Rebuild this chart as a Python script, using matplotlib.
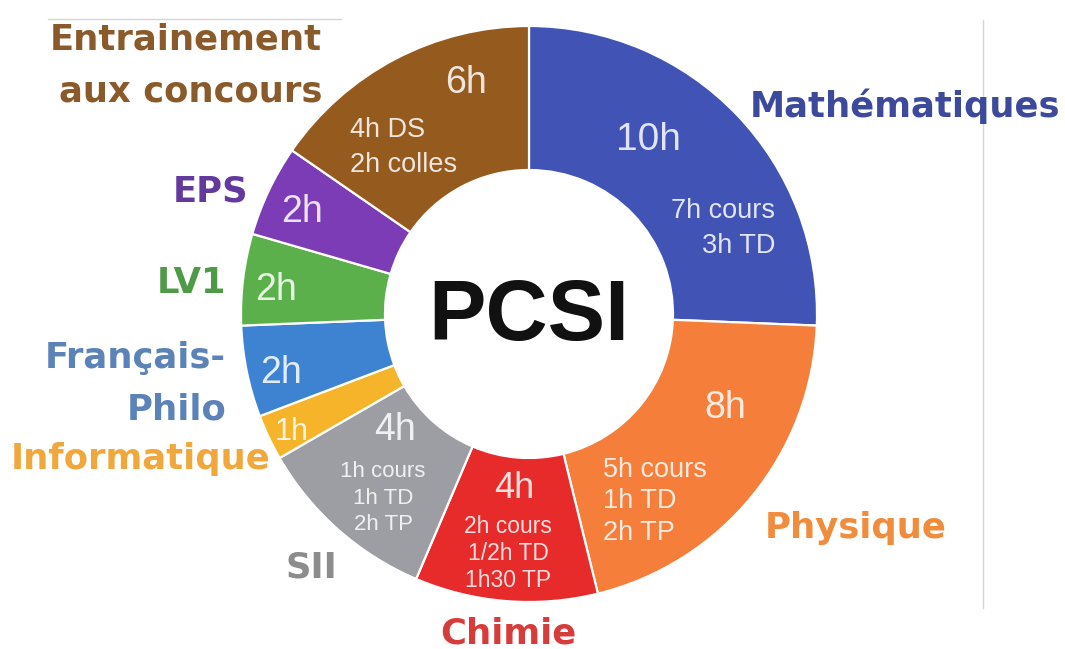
import matplotlib.pyplot as plt

W, H = 1065, 649

matieres = ["Mathématiques", "Physique", "Chimie", "SII", "Informatique",
            "Français-\nPhilo", "LV1", "EPS", "Entrainement\naux concours"]
heures = [10, 8, 4, 4, 1, 2, 2, 2, 6]
details = ["7h cours\n3h TD", "5h cours\n1h TD\n2h TP", "2h cours\n1/2h TD\n1h30 TP",
           "1h cours\n1h TD\n2h TP", "", "", "", "", "4h DS\n2h colles"]

couleurs = ["#4153B4", "#F47E3A", "#E72A2A", "#9D9EA4", "#F6B42B",
            "#3E82D2", "#5BB04C", "#7B3CB5", "#955A1E"]
couleurs_label = ["#3D4A9C", "#F08C3C", "#D63C3A", "#8C8C8C", "#F0A83C",
                  "#5B83B8", "#4E9A47", "#64399E", "#8A5A2A"]

# positions en pixels (origine en haut a gauche)
pos_label = [(905, 117, "center"), (856, 538, "center"), (508, 643, "center"),
             (311, 578, "center"), (141, 469, "center"), (226, 368, "right"),
             (192, 293, "center"), (211, 202, "center"), (322, 50, "right")]
pos_heures = [(648, 150, 28), (725, 418, 27), (514, 498, 26), (395, 440, 27),
              (292, 440, 22), (281, 383, 27), (276, 300, 27), (302, 222, 27),
              (466, 93, 27)]
pos_details = [(775, 218, "right", 35, 19.5), (603, 477, "left", 31.5, 19.5),
               (508, 533, "center", 27, 16.5), (383, 477, "center", 26.5, 16),
               None, None, None, None, (350, 137, "left", 35, 19.5)]


def Y(y):
    return H - y


fig = plt.figure(figsize=(W / 100, H / 100), dpi=100)
ax = fig.add_axes([0, 0, 1, 1])

ax.pie(heures, colors=couleurs, startangle=90, counterclock=False,
       center=(529, Y(314)), radius=288,
       wedgeprops=dict(width=144, edgecolor="white", linewidth=1.6))

ax.set_xlim(0, W)
ax.set_ylim(0, H)
ax.set_aspect("auto")
ax.axis("off")

# traits parasites de la capture
ax.plot([983, 983], [Y(20), Y(608)], color="#d6d6d6", lw=1)
ax.plot([48, 341], [Y(19), Y(19)], color="#d6d6d6", lw=1)

ax.text(529, Y(318), "PCSI", ha="center", va="center", fontsize=62,
        fontweight="bold", family="Liberation Sans", color="#111111")

for i, nom in enumerate(matieres):
    x, yb, ha = pos_label[i]
    for k, ligne in enumerate(nom.split("\n")):
        ax.text(x, Y(yb + 52 * k), ligne, ha=ha, va="baseline", fontsize=25.5,
                fontweight="bold", family="DejaVu Sans", color=couleurs_label[i])

    hx, hy, hs = pos_heures[i]
    ax.text(hx, Y(hy), f"{heures[i]}h", ha="center", va="baseline", fontsize=hs,
            family="Liberation Sans", color="white", alpha=0.85)

    if pos_details[i] is not None:
        dx, dy, dha, pas, ds = pos_details[i]
        for k, ligne in enumerate(details[i].split("\n")):
            ax.text(dx, Y(dy + pas * k), ligne, ha=dha, va="baseline", fontsize=ds,
                    family="Liberation Sans", color="white", alpha=0.85)

fig.savefig("out.png", dpi=100, facecolor="white")
